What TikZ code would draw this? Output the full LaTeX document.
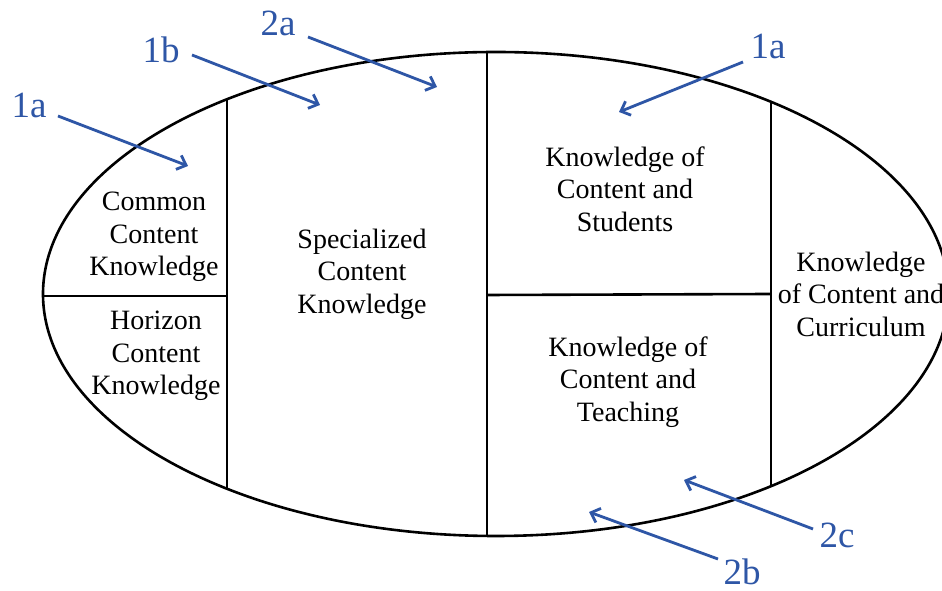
\documentclass[tikz,border=0pt]{standalone}
\usepackage{fontspec}
\setmainfont{LiberationSerif-Regular.ttf}
\usetikzlibrary{arrows.meta}
\definecolor{arrowblue}{RGB}{46,86,166}
\tikzset{
  part/.style={draw=black,line width=2.6pt},
  lbl/.style={align=center,inner sep=0pt,font=\fontsize{28}{32.5}\selectfont},
  tag/.style={inner sep=0pt,text=arrowblue,font=\fontsize{37}{40}\selectfont},
  pointer/.style={draw=arrowblue,line width=2.8pt,-{Straight Barb[length=8pt,width=15pt,line width=2.8pt]}}
}
\begin{document}
\begin{tikzpicture}[x=1pt,y=1pt]
\useasboundingbox (0,0) rectangle (942,591);
\fill[white] (0,0) rectangle (942,591);
\begin{scope}
\clip (0,0) rectangle (942,591);
\coordinate (c) at (495.8,297);
\draw[part] (c) ellipse [x radius=452.8, y radius=242];
\coordinate (v1t) at (227,491);
\coordinate (v1b) at (227,103);
\coordinate (v2t) at (487,539);
\coordinate (v2b) at (487,55);
\coordinate (v3t) at (771,490);
\coordinate (v3b) at (771,105);
\draw[part] (v1t) -- (v1b);
\draw[part] (v2t) -- (v2b);
\draw[part] (v3t) -- (v3b);
\coordinate (h1l) at (43.5,295);
\coordinate (h1r) at (227,295);
\coordinate (h2l) at (487,296);
\coordinate (h2r) at (771,297);
\draw[part] (h1l) -- (h1r);
\draw[part] (h2l) -- (h2r);
\node[lbl] (ccK) at (154,354) {Common\\Content\\Knowledge};
\node[lbl] (hcK) at (156,235) {Horizon\\Content\\Knowledge};
\node[lbl] (scK) at (362,317) {Specialized\\Content\\Knowledge};
\node[lbl] (kcs) at (625,402) {Knowledge of\\Content and\\Students};
\node[lbl] (kct) at (628,209) {Knowledge of\\Content and\\Teaching};
\node[lbl] (kcc) at (861,297) {Knowledge\\of Content and\\Curriculum};
\end{scope}
\node[tag] (t1a) at (29,486) {1a};
\node[tag] (t1b) at (161,541) {1b};
\node[tag] (t2a) at (278,568) {2a};
\node[tag] (t1ar) at (768,545) {1a};
\node[tag] (t2c) at (837,56) {2c};
\node[tag] (t2b) at (742,19) {2b};
\coordinate (e1a) at (188,425);
\coordinate (e1b) at (320,486);
\coordinate (e2a) at (437,504);
\coordinate (e1ar) at (619,479);
\coordinate (e2c) at (684,111);
\coordinate (e2b) at (589,79);
\draw[pointer] (58,475) -- (e1a);
\draw[pointer] (192,536) -- (e1b);
\draw[pointer] (308,554) -- (e2a);
\draw[pointer] (743,529) -- (e1ar);
\draw[pointer] (813,62) -- (e2c);
\draw[pointer] (718,32) -- (e2b);
\end{tikzpicture}
\end{document}
